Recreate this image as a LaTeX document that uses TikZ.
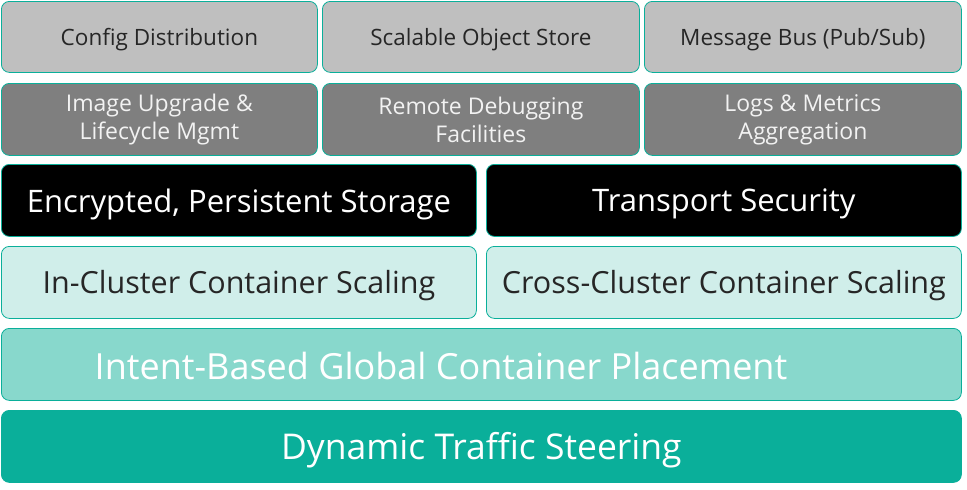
\documentclass[tikz,border=0pt]{standalone}
\usepackage{fontspec}
\setmainfont{Open Sans}
\definecolor{tealb}{HTML}{0AAF9A}
\definecolor{rowone}{HTML}{BFBFBF}
\definecolor{rowtwo}{HTML}{7F7F7F}
\definecolor{rowfour}{HTML}{D0EEEA}
\definecolor{rowfive}{HTML}{88D8CC}
\definecolor{rowsix}{HTML}{0AAF9A}
\definecolor{darktext}{HTML}{262626}
\tikzset{
  box/.style={draw=tealb, line width=0.8pt, rounded corners=8pt, inner sep=0pt, anchor=north west, align=center},
  gbox/.style={box, fill=rowone, text=darktext, text depth=0pt, font=\fontsize{22.5}{27}\selectfont},
  dbox/.style={box, fill=rowtwo, text=white!95!black, font=\fontsize{23}{28}\selectfont},
  bbox/.style={box, fill=black, text=white, text depth=0pt, font=\fontsize{31}{36}\selectfont},
  lbox/.style={box, fill=rowfour, text=darktext, text depth=0pt, font=\fontsize{30.5}{36}\selectfont},
  mbox/.style={box, fill=rowfive},
  tbox/.style={box, fill=rowsix, draw=rowsix, text=white, text depth=0pt, font=\fontsize{35.5}{40}\selectfont},
}
\begin{document}
\begin{tikzpicture}[x=1pt,y=-1pt]
\useasboundingbox[fill=white] (0,0) rectangle (967,490);
% row 1
\node[gbox, minimum width=316pt, minimum height=71pt] (cfg) at (1,1) {Config Distribution};
\node[gbox, minimum width=317pt, minimum height=71pt] (obj) at (322,1) {Scalable Object Store};
\node[gbox, minimum width=317pt, minimum height=71pt] (bus) at (644,1) {Message Bus (Pub/Sub)};
% row 2
\node[dbox, minimum width=316pt, minimum height=72pt] (img) at (1,83) {Image Upgrade \&\\Lifecycle Mgmt};
\node[dbox, minimum width=317pt, minimum height=72pt] (dbg) at (322,83) {Remote Debugging\\Facilities};
\node[dbox, minimum width=317pt, minimum height=72pt] (log) at (644,83) {Logs \& Metrics\\Aggregation};
% row 3
\node[bbox, minimum width=475pt, minimum height=72pt] (enc) at (1,164) {Encrypted, Persistent Storage};
\node[bbox, minimum width=475pt, minimum height=72pt] (tls) at (486,164) {Transport Security};
% row 4
\node[lbox, minimum width=475pt, minimum height=72pt] (inc) at (1,246) {In-Cluster Container Scaling};
\node[lbox, minimum width=475pt, minimum height=72pt] (crc) at (486,246) {Cross-Cluster Container Scaling};
% row 5
\node[mbox, minimum width=960pt, minimum height=72pt] (ibp) at (1,328) {};
\node[text=white, font=\fontsize{36}{40}\selectfont, inner sep=0pt, text depth=0pt] (ibpt) at (441,366) {Intent-Based Global Container Placement};
% row 6
\node[tbox, minimum width=960pt, minimum height=72pt] (dts) at (1,410) {Dynamic Traffic Steering};
\end{tikzpicture}
\end{document}
